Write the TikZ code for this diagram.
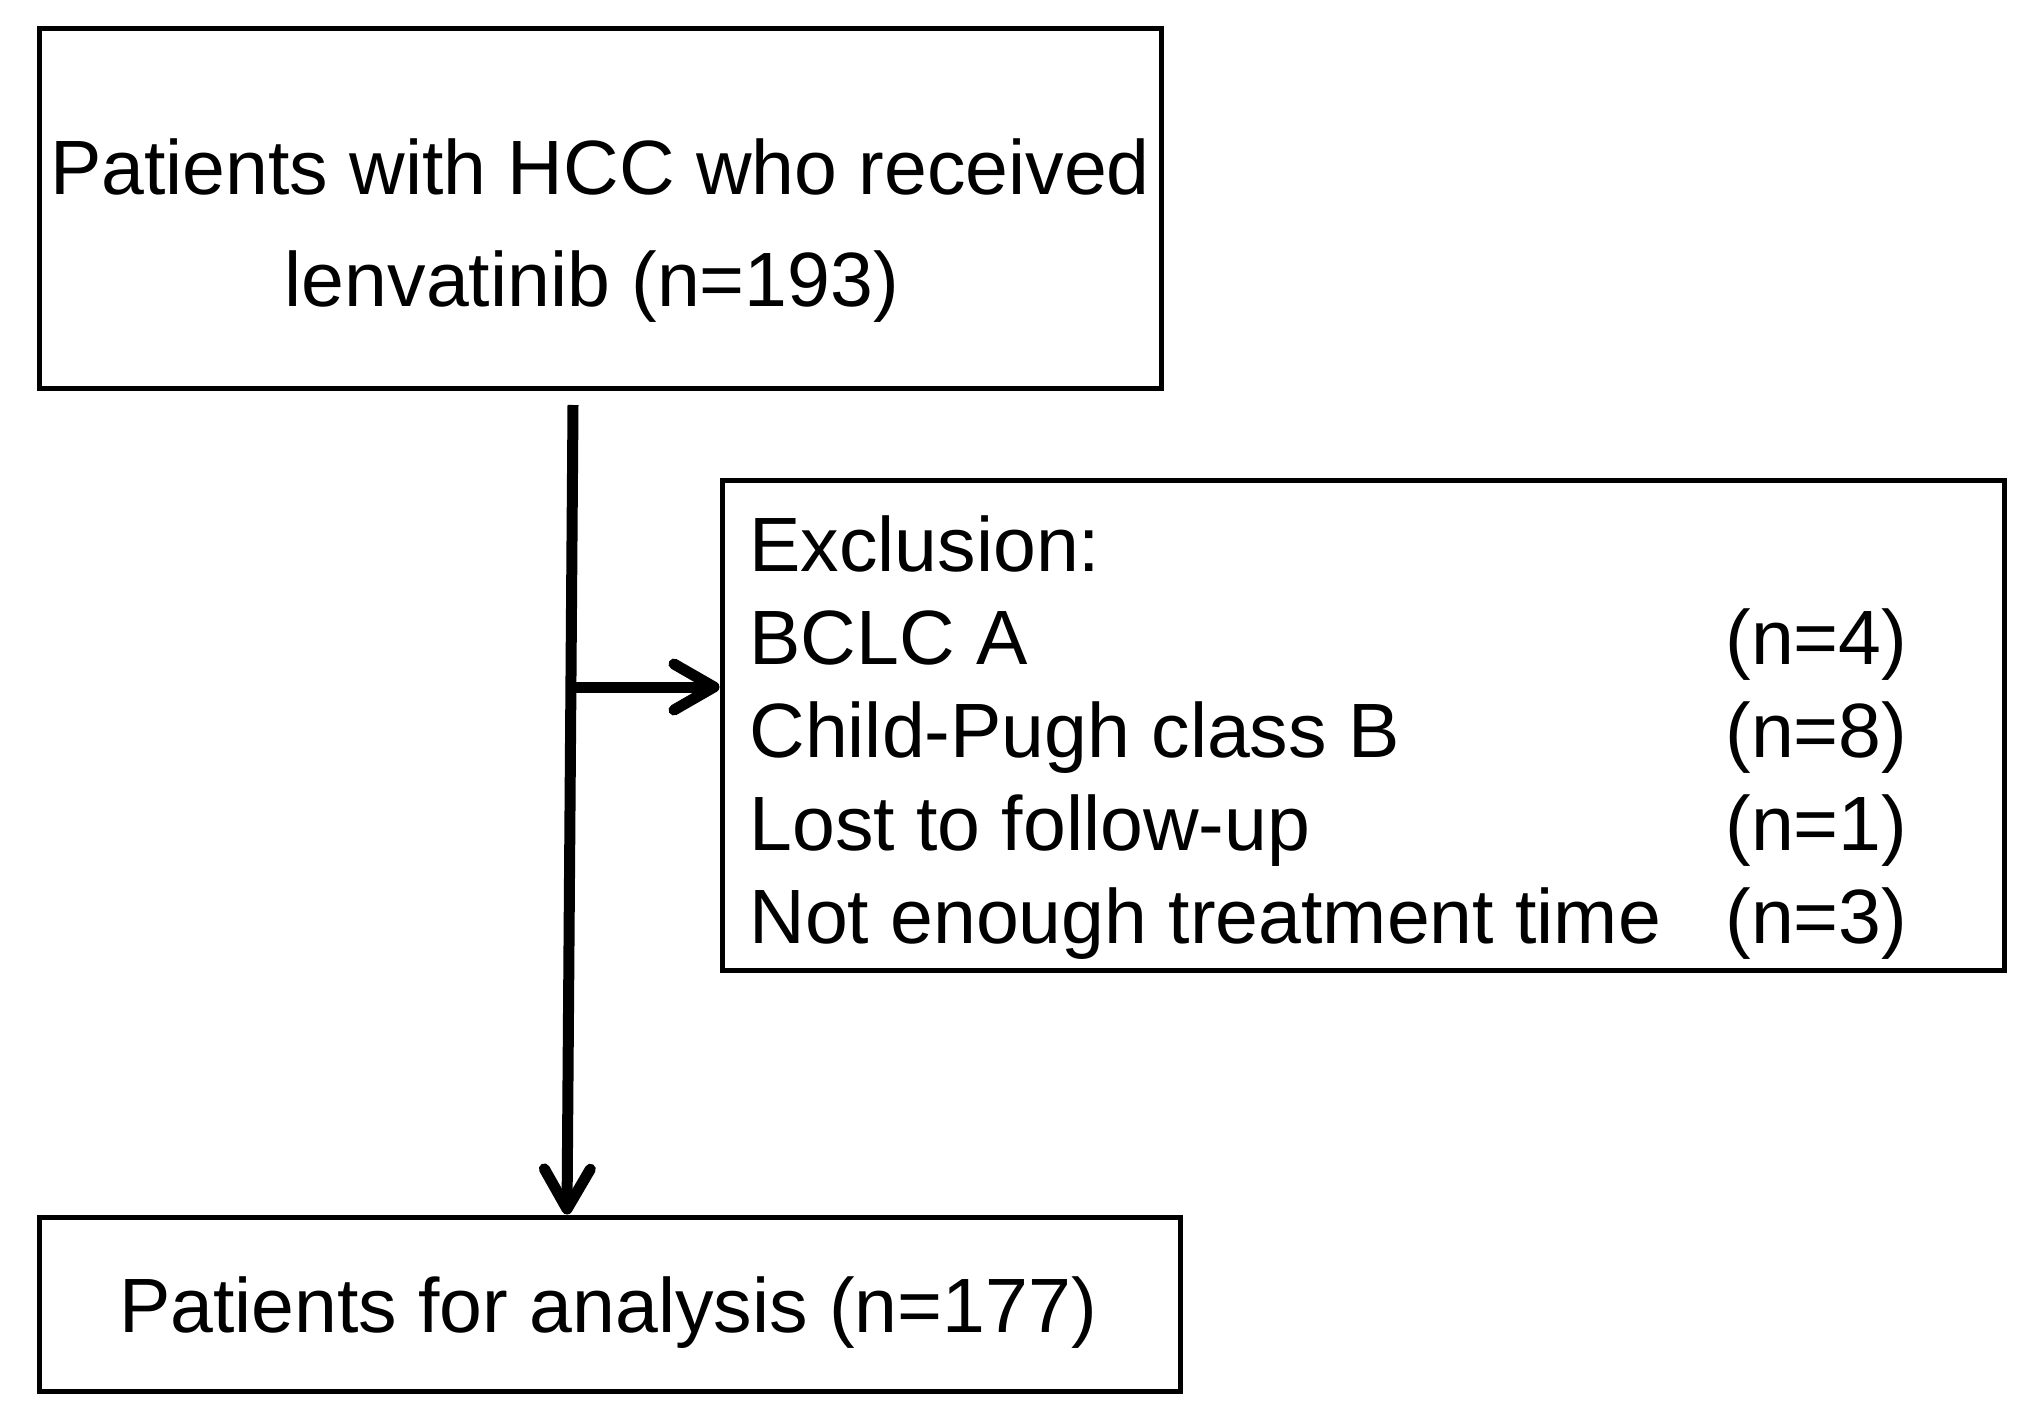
\documentclass[tikz,border=0pt]{standalone}
\usepackage{fontspec}
\setmainfont{Liberation Sans}
\usetikzlibrary{arrows.meta,fit,calc}
\begin{document}
\begin{tikzpicture}[x=0.5pt,y=-0.5pt,
  box/.style={draw=black,line width=2.5pt,inner sep=0pt,rectangle},
  txt/.style={inner sep=0pt,font=\fontsize{38.5pt}{46pt}\selectfont},
  arr/.style={line width=5.5pt,-{Straight Barb[length=20pt,width=23pt,line cap=round,line join=round]}}]
\useasboundingbox (0,0) rectangle (2033,1417);
% boxes
\node[box,fit={(39,29) (1161,389)}] (b1) {};
\node[box,fit={(722,480) (2004,970)}] (b2) {};
\node[box,fit={(39,1217) (1180,1391)}] (b3) {};
% box 1 text
\node[txt,anchor=base] (t1a) at (600,195) {Patients with HCC who received};
\node[txt,anchor=base] (t1b) at (592,307) {lenvatinib (n=193)};
% box 2 text
\node[txt,anchor=base west] (e0) at (749,571) {Exclusion:};
\node[txt,anchor=base west] (e1) at (749,664) {BCLC A};
\node[txt,anchor=base west] (e2) at (749,757) {Child-Pugh class B};
\node[txt,anchor=base west] (e3) at (749,850) {Lost to follow-up};
\node[txt,anchor=base west] (e4) at (749,943) {Not enough treatment time};
\node[txt,anchor=base west] (n1) at (1725,664) {(n=4)};
\node[txt,anchor=base west] (n2) at (1725,757) {(n=8)};
\node[txt,anchor=base west] (n3) at (1725,850) {(n=1)};
\node[txt,anchor=base west] (n4) at (1725,943) {(n=3)};
% box 3 text
\node[txt,anchor=base] (t3) at (608,1332) {Patients for analysis (n=177)};
% connectors
\coordinate (s) at (573,405);
\coordinate (j) at (571,687);
\draw[arr] (s) -- ($(s |- b3.north)+(-6,0)$);
\draw[arr] (j) -- (j -| b2.west);
\end{tikzpicture}
\end{document}
